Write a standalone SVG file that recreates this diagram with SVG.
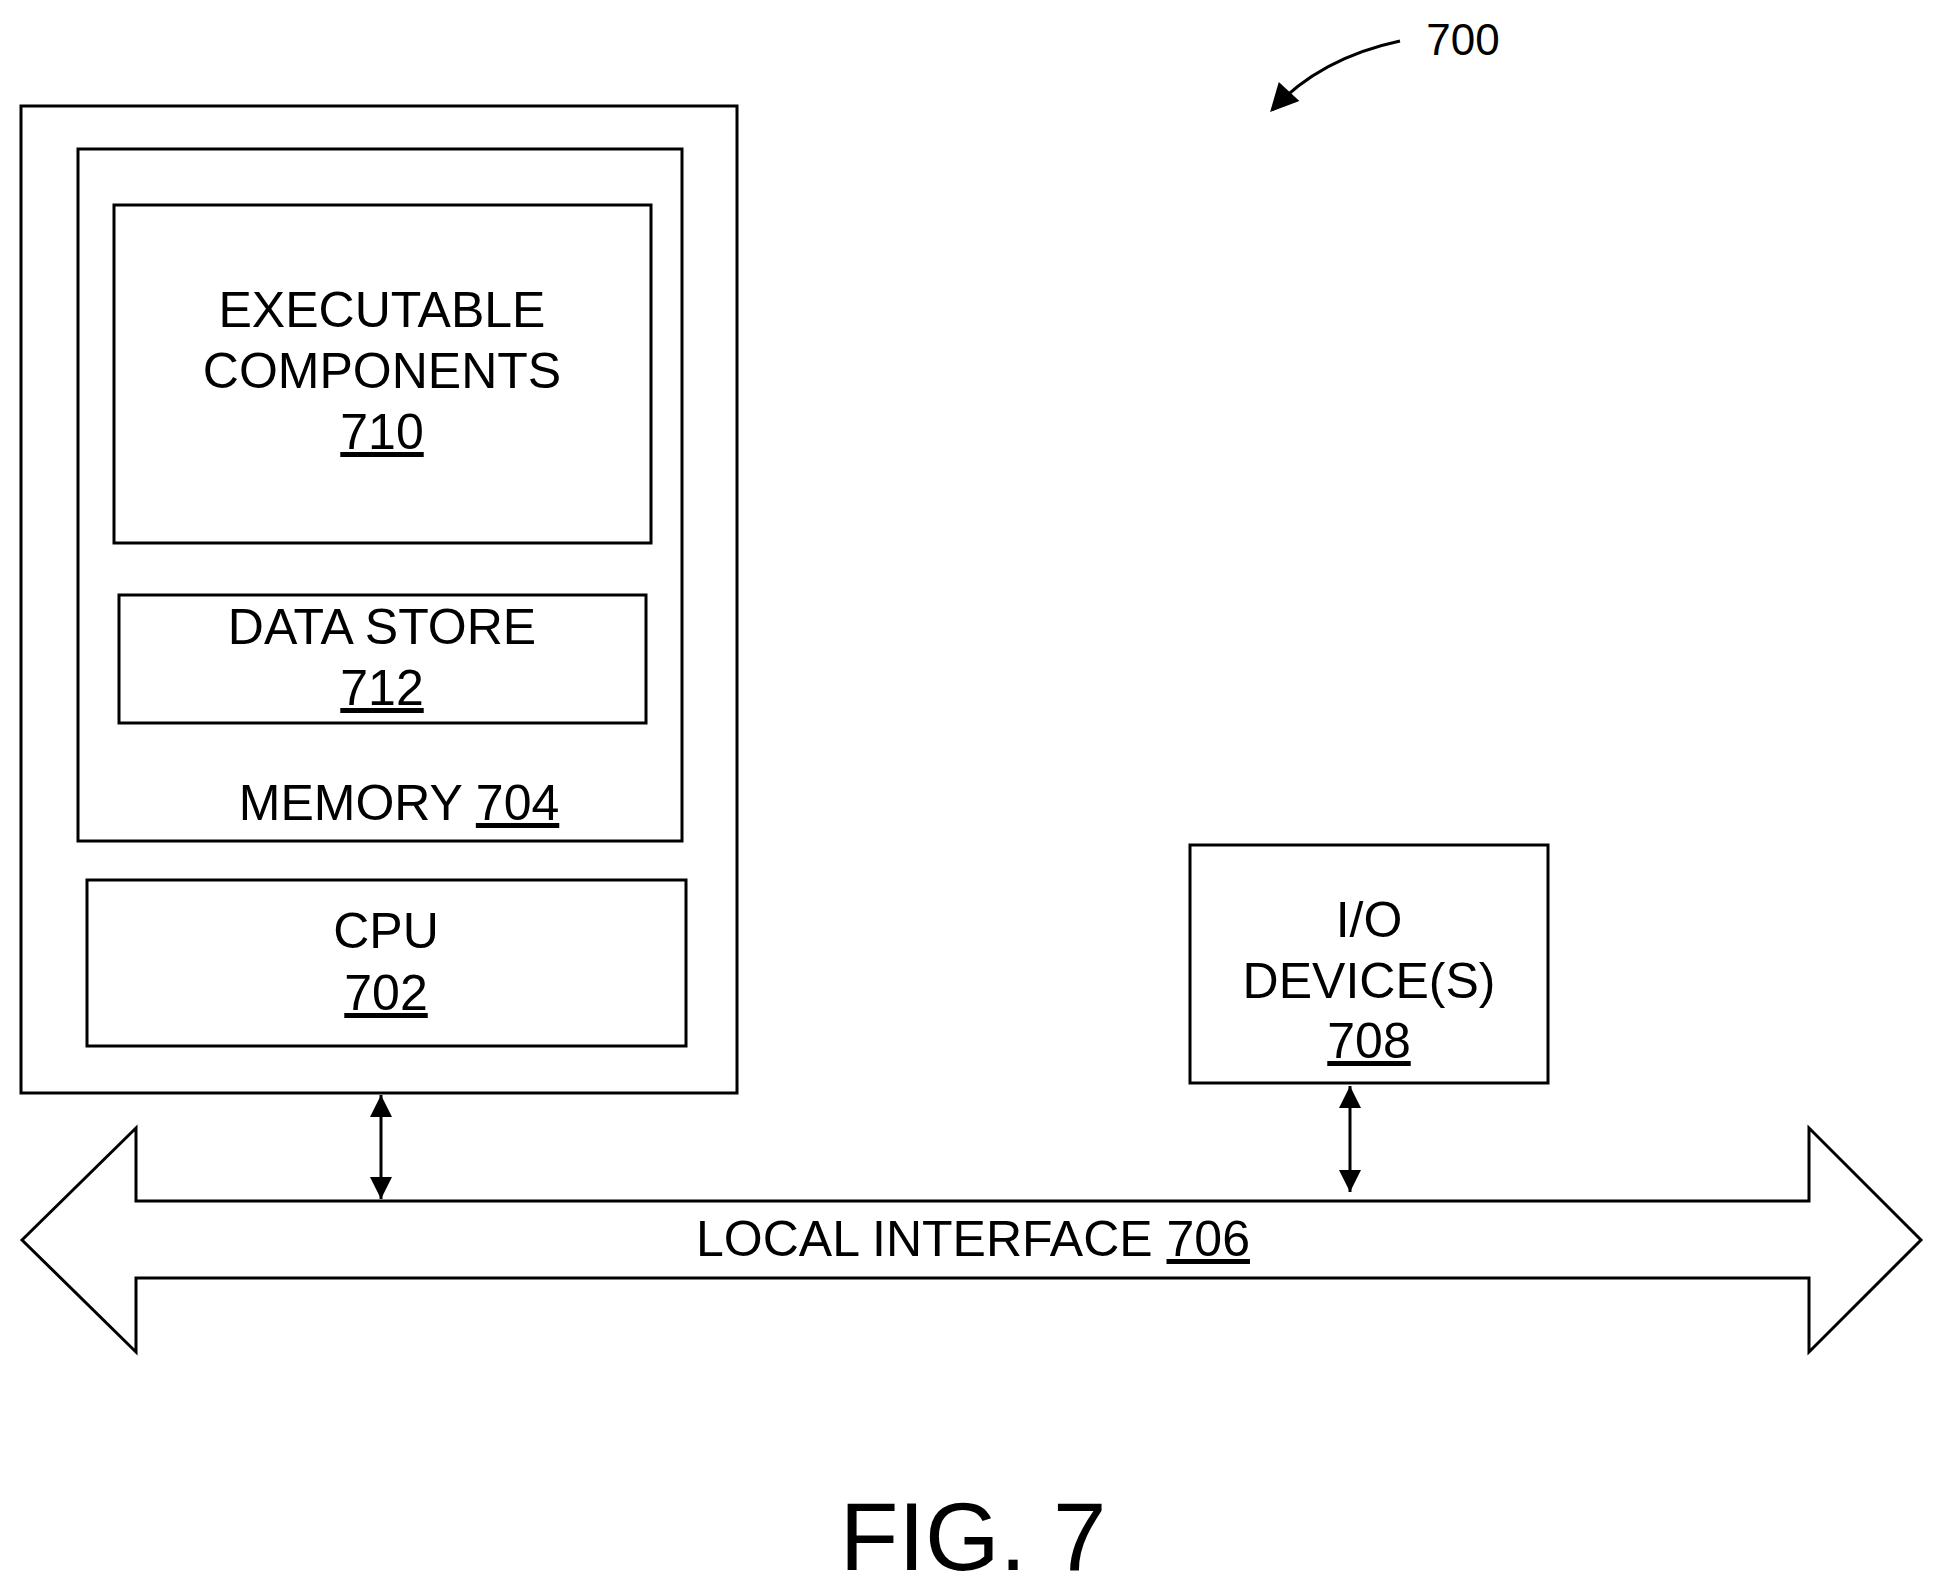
<svg xmlns="http://www.w3.org/2000/svg" width="1937" height="1596" viewBox="0 0 1937 1596">
<defs>
<style>
rect,path,line{fill:none;stroke:#000;stroke-width:3}
text{font-family:"Liberation Sans",Arial,sans-serif;font-size:50px;fill:#000;text-anchor:middle}
.u{text-decoration:underline}
</style>
<marker id="a" viewBox="0 0 10 10" refX="10" refY="5" markerWidth="24" markerHeight="22" markerUnits="userSpaceOnUse" orient="auto-start-reverse"><path d="M0,0L10,5L0,10z" style="fill:#000;stroke:none"/></marker>
<marker id="b" viewBox="0 0 10 10" refX="9" refY="5" markerWidth="30" markerHeight="28" markerUnits="userSpaceOnUse" orient="auto"><path d="M0,0L10,5L0,10z" style="fill:#000;stroke:none"/></marker>
</defs>
<rect fill="#fff" width="1937" height="1596" style="fill:#fff;stroke:none"/>
<g id="computer"><rect x="21" y="106" width="716" height="987"/></g>
<g id="memory"><rect x="78" y="149" width="604" height="692"/><text x="399" y="820">MEMORY <tspan class="u">704</tspan></text></g>
<g id="exec"><rect x="114" y="205" width="537" height="338"/><text x="382" y="327">EXECUTABLE</text><text x="382" y="388">COMPONENTS</text><text x="382" y="449" class="u">710</text></g>
<g id="datastore"><rect x="119" y="595" width="527" height="128"/><text x="382" y="644">DATA STORE</text><text x="382" y="705" class="u">712</text></g>
<g id="cpu"><rect x="87" y="880" width="599" height="166"/><text x="386" y="948">CPU</text><text x="386" y="1010" class="u">702</text></g>
<g id="io"><rect x="1190" y="845" width="358" height="238"/><text x="1369" y="937">I/O</text><text x="1369" y="998">DEVICE(S)</text><text x="1369" y="1058" class="u">708</text></g>
<g id="bus"><path d="M22,1240L136,1128V1201H1809V1128L1921,1240L1809,1352V1278H136V1352Z"/><text x="973" y="1256">LOCAL INTERFACE <tspan class="u">706</tspan></text></g>
<g id="connectors">
<line x1="381" y1="1095" x2="381" y2="1199" marker-start="url(#a)" marker-end="url(#a)"/>
<line x1="1350" y1="1086" x2="1350" y2="1192" marker-start="url(#a)" marker-end="url(#a)"/>
<path d="M1400,41Q1320,58 1272,110" marker-end="url(#b)"/>
</g>
<text x="1463" y="55" style="font-size:44px">700</text>
<text x="973" y="1570" style="font-size:96px">FIG. 7</text>
</svg>
